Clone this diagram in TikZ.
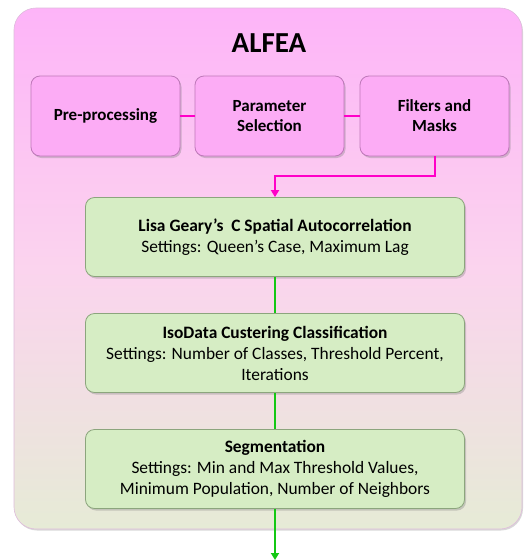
\documentclass[tikz,border=0pt]{standalone}
\usepackage{fontspec}
\setmainfont{Carlito}
\usetikzlibrary{shadows,arrows.meta}
\definecolor{outertop}{RGB}{253,180,248}
\definecolor{outermid}{RGB}{251,212,238}
\definecolor{outerbot}{RGB}{230,235,214}
\definecolor{pinkbox}{RGB}{252,172,245}
\definecolor{pinkedge}{RGB}{190,120,185}
\definecolor{greenbox}{RGB}{214,237,196}
\definecolor{greenedge}{RGB}{140,165,125}
\definecolor{linkpink}{RGB}{255,0,200}
\definecolor{linkgreen}{RGB}{20,200,20}
\tikzset{
  topbox/.style={draw=pinkedge, line width=0.8pt, rounded corners=9pt, fill=pinkbox,
    minimum width=149pt, minimum height=80pt, align=center, font=\bfseries\fontsize{17}{20}\selectfont,
    drop shadow={shadow xshift=1.5pt, shadow yshift=-2pt, opacity=0.35}},
  stepbox/.style={draw=greenedge, line width=0.8pt, rounded corners=9pt, fill=greenbox,
    minimum width=379pt, minimum height=79pt, align=center, font=\fontsize{17.4}{21}\selectfont,
    drop shadow={shadow xshift=1.5pt, shadow yshift=-2pt, opacity=0.35}},
  pinklink/.style={draw=linkpink, line width=2.2pt},
  greenlink/.style={draw=linkgreen, line width=2.2pt},
}
\begin{document}
\begin{tikzpicture}[x=1pt,y=-1pt]
\useasboundingbox (0,0) rectangle (523,560);
\fill[white] (0,0) rectangle (523,560);
% outer container
\path[top color=outertop, bottom color=outerbot, middle color=outermid, draw=pinkedge!50, line width=0.6pt, rounded corners=22pt,
  drop shadow={shadow xshift=1pt, shadow yshift=-1.5pt, opacity=0.3}]
  (14,8) rectangle (522,529);
\node[font=\bfseries\fontsize{29}{32}\selectfont] (title) at (269,43) {ALFEA};
% top row
\node[topbox] (pre) at (105.5,116) {Pre-processing};
\node[topbox] (par) at (269.5,116) {Parameter\\Selection};
\node[topbox] (fil) at (434.5,116) {Filters and\\Masks};
\draw[pinklink] (pre.east) -- (par.west);
\draw[pinklink] (par.east) -- (fil.west);
% steps
\node[stepbox] (s1) at (275,237) {\textbf{Lisa Geary’s\ \ C Spatial Autocorrelation}\\Settings: Queen’s Case, Maximum Lag};
\node[stepbox] (s2) at (275,353) {\textbf{IsoData Custering Classification}\\Settings: Number of Classes, Threshold Percent,\\Iterations};
\node[stepbox] (s3) at (275,469) {\textbf{Segmentation}\\Settings: Min and Max Threshold Values,\\Minimum Population, Number of Neighbors};
\coordinate (bend) at (435,176);
\coordinate (out) at (275,560);
\draw[pinklink, -{Triangle[length=7pt,width=8pt]}] (fil.south -| bend) -- (bend) -| (s1.north);
\draw[greenlink] (s1.south) -- (s2.north);
\draw[greenlink] (s2.south) -- (s3.north);
\draw[greenlink, -{Triangle[length=7pt,width=8pt]}] (s3.south) -- (out);
\end{tikzpicture}
\end{document}
